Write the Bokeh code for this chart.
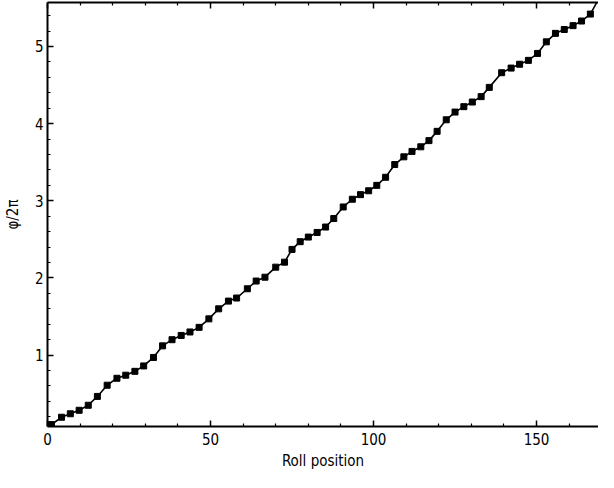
from bokeh.plotting import figure
from bokeh.models import Range1d, LinearAxis, FixedTicker
from bokeh.embed import file_html
from bokeh.resources import INLINE

# Data
roll = [1.2, 4.3, 7.0, 9.7, 12.5, 15.3, 18.3, 21.3, 24.0, 26.8, 29.5, 32.5, 35.3,
        38.2, 41.0, 43.7, 46.5, 49.5, 52.5, 55.5, 58.0, 61.3, 64.0, 66.7, 70.0,
        72.7, 75.0, 77.5, 80.0, 82.7, 85.3, 87.8, 90.7, 93.5, 96.0, 98.5, 101.0,
        103.7, 106.5, 109.3, 111.8, 114.5, 117.0, 119.5, 122.3, 125.0, 127.7,
        130.3, 133.0, 135.5, 139.3, 142.2, 144.8, 147.5, 150.3, 153.0, 155.8,
        158.5, 161.2, 163.8, 166.5, 169.5]
phase = [0.10, 0.195, 0.24, 0.285, 0.35, 0.465, 0.61, 0.70, 0.74, 0.79, 0.86,
         0.97, 1.12, 1.20, 1.255, 1.30, 1.36, 1.47, 1.60, 1.70, 1.74, 1.86, 1.96,
         2.01, 2.14, 2.205, 2.37, 2.47, 2.53, 2.59, 2.66, 2.77, 2.92, 3.02, 3.08,
         3.13, 3.20, 3.305, 3.47, 3.57, 3.64, 3.70, 3.78, 3.90, 4.05, 4.15, 4.22,
         4.28, 4.35, 4.47, 4.66, 4.72, 4.77, 4.82, 4.91, 5.06, 5.17, 5.22, 5.27,
         5.33, 5.42, 5.65]

x_major = [0, 50, 100, 150]
x_minor = [10, 20, 30, 40, 60, 70, 80, 90, 110, 120, 130, 140, 160]
y_major = [1, 2, 3, 4, 5]
y_minor = [0.2, 0.4, 0.6, 0.8, 1.2, 1.4, 1.6, 1.8, 2.2, 2.4, 2.6, 2.8,
           3.2, 3.4, 3.6, 3.8, 4.2, 4.4, 4.6, 4.8, 5.2, 5.4]

FONT = "DejaVu Sans Condensed"

p = figure(width=598, height=472, output_backend="svg", toolbar_location=None,
           x_range=Range1d(0, 169), y_range=Range1d(0.075, 5.57),
           x_axis_location=None, y_axis_location=None,
           min_border_left=42, min_border_right=0, min_border_top=2,
           min_border_bottom=44)
p.outline_line_color = None
p.grid.visible = False
p.background_fill_color = "white"
p.border_fill_color = "white"


def style(ax):
    ax.axis_line_color = "black"
    ax.axis_line_width = 2
    ax.major_tick_line_color = "black"
    ax.minor_tick_line_color = "black"
    ax.major_tick_line_width = 1.5
    ax.minor_tick_line_width = 1.2
    ax.major_tick_in = 6
    ax.major_tick_out = 0
    ax.minor_tick_in = 3
    ax.minor_tick_out = 0
    ax.major_label_text_font = FONT
    ax.major_label_text_color = "black"
    ax.major_label_text_font_size = "15px"
    ax.axis_label_text_font = FONT
    ax.axis_label_text_color = "black"
    ax.axis_label_text_font_style = "normal"
    ax.axis_label_text_font_size = "15px"


xb = LinearAxis(ticker=FixedTicker(ticks=x_major, minor_ticks=x_minor),
                axis_label="Roll position")
style(xb)
xb.major_label_standoff = 6
xb.axis_label_standoff = 4
p.add_layout(xb, "below")

# top frame edge with inward ticks, no labels
xt = LinearAxis(ticker=FixedTicker(ticks=x_major, minor_ticks=x_minor))
style(xt)
xt.major_label_text_color = None
xt.major_label_text_font_size = "1px"
xt.major_label_standoff = 0
p.add_layout(xt, "above")

yl = LinearAxis(ticker=FixedTicker(ticks=y_major, minor_ticks=y_minor),
                axis_label="φ/2π")
style(yl)
yl.major_label_standoff = 4
yl.axis_label_standoff = 10
yl.major_label_orientation = "horizontal"
p.add_layout(yl, "left")

p.line(roll, phase, line_color="black", line_width=1.6)
p.scatter(roll, phase, marker="square", size=6, fill_color="black",
          line_color="black")

open("out.html", "w").write(file_html(p, INLINE))
